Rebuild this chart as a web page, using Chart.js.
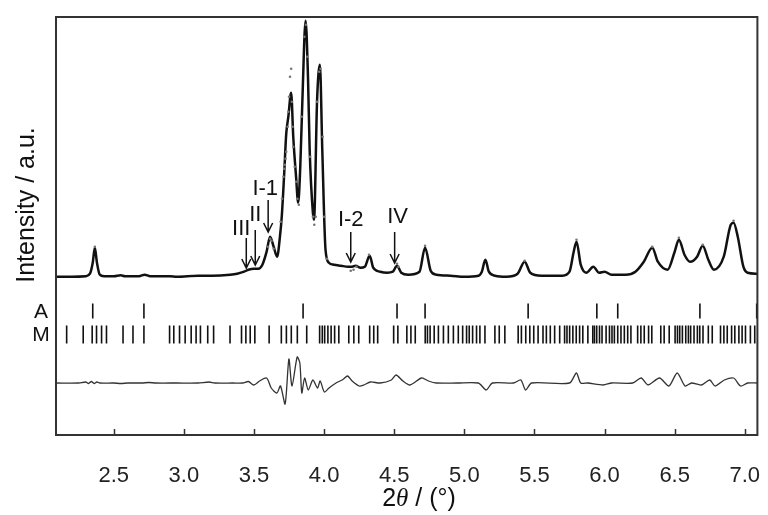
<!DOCTYPE html>
<html>
<head>
<meta charset="utf-8">
<script src="https://cdn.jsdelivr.net/npm/chart.js@4/dist/chart.umd.min.js"></script>
<style>
html,body{margin:0;padding:0;background:#fff;}
canvas{display:block;}
</style>
</head>
<body>
<canvas id="c" width="768" height="515"></canvas>
<script>
// ---- data ----
const twoTheta = [2.09,2.20,2.30,2.33,2.35,2.365,2.38,2.40,2.43,2.50,2.55,2.58,2.68,2.72,2.76,2.90,2.95,3.10,3.20,3.33,3.38,3.43,3.46,3.50,3.53,3.56,3.59,3.615,3.64,3.665,3.685,3.698,3.715,3.73,3.745,3.765,3.78,3.80,3.815,3.83,3.845,3.868,3.885,3.897,3.92,3.928,3.95,3.97,3.987,4.01,4.034,4.07,4.12,4.17,4.20,4.225,4.26,4.29,4.325,4.35,4.40,4.45,4.49,4.52,4.55,4.60,4.68,4.72,4.76,4.80,4.90,5.00,5.10,5.125,5.15,5.175,5.22,5.30,5.38,5.43,5.47,5.55,5.70,5.75,5.78,5.80,5.83,5.87,5.92,5.96,6.00,6.05,6.15,6.22,6.28,6.34,6.38,6.45,6.50,6.53,6.57,6.61,6.66,6.70,6.74,6.78,6.85,6.90,6.92,6.95,6.99,7.02,7.09];
const calcI = [0,0,0.5,3,14,29,14,2,0.5,0.5,1.5,0.5,0.5,2,0.5,0.5,0,1,1,2,3,5,7,8,8,12,25,40,30,20,40,60,102,143,160,184,140,100,74,110,176,256,200,127,64,57,177,212,127,27,14,12,11,10,10,11,9,10,21,9,5,4,5,11,4,2,5,29,6,2,1,0,1,5,17,5,1,0,3,15,4,1,1,5,25,35,12,4,10,4,5,2,2,5,15,29,15,7,25,37,22,15,20,31,17,7,20,52,54,40,10,4,3];

const obsTheta = [2.365,3.60,3.615,3.625,3.64,3.69,3.70,3.71,3.715,3.72,3.725,3.73,3.74,3.745,3.75,3.757,3.765,3.77,3.775,3.78,3.79,3.80,3.81,3.82,3.84,3.86,3.87,3.88,3.90,3.92,3.93,3.94,3.95,3.965,3.975,3.99,4.00,4.02,4.19,4.21,4.23,4.32,4.52,4.53,4.72,5.43,5.80,6.34,6.53,6.70,6.92];
const obsI = [30,30,38,36,28,55,78,100,108,112,118,125,150,165,180,200,208,175,150,130,110,95,78,72,160,240,252,220,120,60,52,60,175,205,208,140,60,18,6,7,10,22,13,10,31,16,37,30,39,32,56];

const diffTheta = [2.09,2.25,2.30,2.32,2.34,2.36,2.38,2.40,2.50,2.55,2.60,2.70,2.75,2.80,2.95,3.10,3.18,3.22,3.35,3.42,3.46,3.498,3.54,3.59,3.623,3.663,3.689,3.722,3.749,3.771,3.808,3.827,3.841,3.861,3.887,3.92,3.953,3.972,4.002,4.035,4.085,4.134,4.167,4.20,4.249,4.283,4.33,4.40,4.48,4.513,4.562,4.612,4.695,4.744,4.80,4.95,5.10,5.156,5.20,5.35,5.403,5.437,5.48,5.75,5.799,5.83,5.88,5.99,6.05,6.20,6.261,6.31,6.392,6.459,6.518,6.574,6.62,6.69,6.75,6.788,6.854,6.92,6.97,7.02,7.09];
const diffI = [0,0,1,-0.5,1.5,-0.5,1,0,0,-0.5,0,0,0.5,0,0,0,1,0,0,0,1.5,-2,2,5,-5,-10,-3,-21,24,-3,26,20,-10,5,-7,3,-5,2,-9,-5,0,3.5,7,2,-3,-2,1,0,3,8,2,-2,5,2,0,0,0,-7,0,0,3,-7,0,0,10,0,0,-2,0,0,5,-2,5,-3,10,-3,0,-2,3,-3,3,5,-3,0,0];

const refA = [2.35,2.715,3.85,4.52,4.72,5.455,5.945,6.094,6.68,7.085];
const refM = [2.164,2.282,2.346,2.377,2.413,2.448,2.566,2.637,2.715,2.898,2.928,2.969,3.009,3.052,3.087,3.118,3.170,3.212,3.329,
3.411,3.442,3.473,3.506,3.608,3.695,3.731,3.766,3.809,3.876,3.968,3.987,4.004,4.027,4.050,4.075,4.105,4.176,4.212,4.247,4.325,4.354,4.382,4.496,4.526,4.590,4.619,
4.650,4.721,4.737,4.756,4.785,4.815,4.851,4.886,4.922,4.957,4.988,5.016,5.035,5.059,5.087,5.111,5.147,5.218,5.249,5.289,5.384,5.407,5.438,5.467,5.495,5.526,5.561,5.585,5.613,5.644,5.680,5.715,5.732,5.751,5.774,5.798,5.822,5.845,5.881,5.916,
5.928,5.944,5.964,5.982,6.011,6.035,6.053,6.070,6.094,6.117,6.141,6.165,6.188,6.236,6.259,6.283,6.314,6.337,6.401,6.425,6.461,6.503,6.520,6.536,6.555,6.579,6.598,6.614,6.638,6.662,6.679,6.702,6.740,6.768,6.827,6.851,6.875,6.906,6.929,6.958,6.981,7.005,7.040,7.071];

const xTicks = [2.5,3.0,3.5,4.0,4.5,5.0,5.5,6.0,6.5,7.0];

const peakLabels = ['III','II','I-1','I-2','IV'];
const peakArrowX = [3.445,3.509,3.601,4.19,4.503];
const peakArrowTip = [8.7,11.7,44.7,14.7,13.7];
const peakArrowTail = [38.7,46.7,76.7,44.7,44.7];
const peakLabelX = [3.409,3.509,3.580,4.190,4.524];
const peakLabelI = [47.7,61.7,87.7,56.7,59.7];

const rowLabels = ['A','M'];

// ---- chart ----
const FONT = '"Liberation Sans", Arial, sans-serif';
Chart.defaults.font.family = FONT;

const decor = {
  id: 'decor',
  afterDraw(chart) {
    const {ctx, chartArea: a, scales} = chart;
    const x = scales.x, y = scales.y, yt = scales.yt;
    ctx.save();
    // frame
    ctx.strokeStyle = '#333';
    ctx.lineWidth = 2;
    ctx.strokeRect(a.left, a.top, a.right - a.left, a.bottom - a.top);
    // inward tick marks
    ctx.lineWidth = 1.5;
    xTicks.forEach(v => {
      const px = Math.round(x.getPixelForValue(v)) + 0.5;
      ctx.beginPath(); ctx.moveTo(px, a.bottom); ctx.lineTo(px, a.bottom - 6); ctx.stroke();
    });
    // row labels
    ctx.fillStyle = '#111';
    ctx.font = '21px ' + FONT;
    ctx.textAlign = 'center';
    ctx.textBaseline = 'middle';
    ctx.fillText(rowLabels[0], 41, yt.getPixelForValue(1) + 1);
    ctx.fillText(rowLabels[1], 41, yt.getPixelForValue(0) + 1);
    // y title
    ctx.save();
    ctx.translate(27, 205);
    ctx.rotate(-Math.PI / 2);
    ctx.font = '25px ' + FONT;
    ctx.fillText('Intensity / a.u.', 0, 0);
    ctx.restore();
    // x title  2θ / (°)
    ctx.textAlign = 'left';
    const parts = [['2', '25px ' + FONT], ['\u03B8', 'italic 25px "Liberation Serif", serif'], [' / (\u00B0)', '25px ' + FONT]];
    let w = 0;
    parts.forEach(p => { ctx.font = p[1]; w += ctx.measureText(p[0]).width; });
    let cx = 419 - w / 2;
    parts.forEach(p => { ctx.font = p[1]; ctx.fillText(p[0], cx, 499); cx += ctx.measureText(p[0]).width; });
    // peak arrows + labels
    ctx.strokeStyle = '#111';
    ctx.lineWidth = 1.5;
    ctx.font = '22px ' + FONT;
    ctx.textAlign = 'center';
    peakLabels.forEach((t, i) => {
      const px = x.getPixelForValue(peakArrowX[i]);
      const tip = y.getPixelForValue(peakArrowTip[i]);
      const tail = y.getPixelForValue(peakArrowTail[i]);
      ctx.beginPath();
      ctx.moveTo(px, tail); ctx.lineTo(px, tip);
      ctx.moveTo(px - 4.5, tip - 9); ctx.lineTo(px, tip); ctx.lineTo(px + 4.5, tip - 9);
      ctx.stroke();
      ctx.fillText(t, x.getPixelForValue(peakLabelX[i]), y.getPixelForValue(peakLabelI[i]));
    });
    ctx.restore();
  }
};

new Chart(document.getElementById('c'), {
  data: {
    datasets: [
      {
        type: 'scatter',
        label: 'observed',
        data: obsTheta.map((v, i) => ({x: v, y: obsI[i]})),
        yAxisID: 'y',
        pointRadius: 1.3,
        pointBackgroundColor: '#777',
        pointBorderWidth: 0
      },
      {
        type: 'line',
        label: 'calculated',
        data: twoTheta.map((v, i) => ({x: v, y: calcI[i]})),
        yAxisID: 'y',
        borderColor: '#111',
        borderWidth: 2.5,
        pointRadius: 0,
        cubicInterpolationMode: 'monotone'
      },
      {
        type: 'line',
        label: 'difference',
        data: diffTheta.map((v, i) => ({x: v, y: diffI[i]})),
        yAxisID: 'yd',
        borderColor: '#333',
        borderWidth: 1.3,
        pointRadius: 0,
        tension: 0.25
      },
      {
        type: 'scatter',
        label: 'A',
        data: refA.map(v => ({x: v, y: 1})),
        yAxisID: 'yt',
        pointStyle: 'line',
        rotation: 90,
        pointRadius: 7.5,
        borderColor: '#111',
        borderWidth: 1.6
      },
      {
        type: 'scatter',
        label: 'M',
        data: refM.map(v => ({x: v, y: 0})),
        yAxisID: 'yt',
        pointStyle: 'line',
        rotation: 90,
        pointRadius: 9,
        borderColor: '#111',
        borderWidth: 1.6
      }
    ]
  },
  options: {
    responsive: false,
    animation: false,
    devicePixelRatio: 1,
    layout: {padding: {left: 56, right: 6, top: 17, bottom: 0}},
    plugins: {legend: {display: false}, tooltip: {enabled: false}},
    scales: {
      x: {
        type: 'linear',
        min: 2.088,
        max: 7.09,
        grid: {display: false, drawTicks: false},
        border: {display: false},
        afterBuildTicks: s => { s.ticks = xTicks.map(v => ({value: v})); },
        afterFit: s => { s.height = 80; s.paddingLeft = 0; s.paddingRight = 0; },
        ticks: {
          color: '#222',
          padding: 28,
          maxRotation: 0,
          autoSkip: false,
          font: {size: 22, family: FONT},
          callback: v => Number(v).toFixed(1)
        }
      },
      y: {display: false, min: -158.3, max: 259.7},
      yd: {display: false, min: -52, max: 366},
      yt: {display: false, min: -4.277, max: 13.51}
    }
  },
  plugins: [decor]
});
</script>
</body>
</html>
